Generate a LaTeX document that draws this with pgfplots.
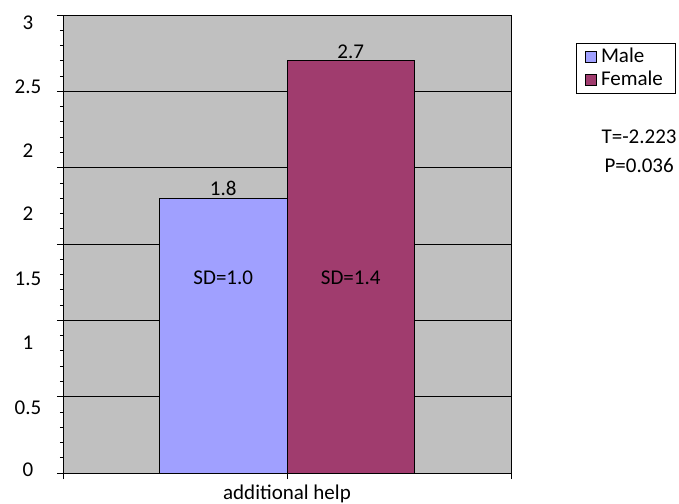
\documentclass[border=0pt]{standalone}
\usepackage{fontspec}
\setmainfont{Carlito}
\usepackage{pgfplots}
\pgfplotsset{compat=1.18}

\definecolor{male}{HTML}{A0A0FF}
\definecolor{female}{HTML}{A03C6E}
\definecolor{plotbg}{HTML}{C0C0C0}

\newcommand{\lbl}{\fontsize{21}{24}\selectfont}

\begin{document}
\begin{tikzpicture}
\begin{axis}[
  at={(63pt,30pt)}, anchor=south west,
  scale only axis, width=448pt, height=458pt,
  xmin=-1.757, xmax=1.757, ymin=0, ymax=3,
  axis background/.style={fill=plotbg},
  axis line style={black, line width=0.9pt},
  font=\lbl,
  /pgf/number format/assume math mode=true,
  xtick={-1.757,0,1.757}, xticklabels={,additional help,},
  xtick pos=bottom, xtick align=outside, major tick length=6pt,
  xticklabel style={yshift=-2pt},
  ytick={0,0.5,...,3}, yticklabels={},
  minor ytick={0.1,0.2,...,3}, ytick pos=left, ytick align=outside,
  minor tick length=3pt,
  tick style={black, line width=0.8pt},
  ymajorgrids, grid style={black, line width=0.8pt},
  extra y ticks={0.02,0.43,0.85,1.27,1.70,2.11,2.53,2.95},
  extra y tick labels={0,0.5,1,1.5,2,2,2.5,3},
  extra y tick style={major tick length=0pt, grid=none,
    yticklabel style={anchor=center, xshift=-35pt}},
  legend style={at={(axis description cs:1.145,0.939)}, anchor=north west,
    draw=black, line width=0.9pt, font=\lbl,
    inner xsep=0pt, inner ysep=3pt, row sep=2pt,
    nodes={inner xsep=1pt, inner ysep=1pt, text height=15pt, text depth=4pt},
    legend cell align=left},
  legend image code/.code={%
    \path (-9pt,0pt) (14pt,0pt);
    \draw[#1, line width=0.6pt] (0pt,-5.5pt) rectangle (11pt,5.5pt);},
  clip=false,
]
\addplot[draw=black, line width=0.6pt, fill=male, ybar, bar width=1, bar shift=0]
  coordinates {(-0.5,1.8)};
\addlegendentry{Male}
\addplot[draw=black, line width=0.6pt, fill=female, ybar, bar width=1, bar shift=0]
  coordinates {(0.5,2.7)};
\addlegendentry{Female\hspace*{12pt}}

\node[font=\lbl, anchor=south, inner sep=2pt] at (axis cs:-0.5,1.8) {1.8};
\node[font=\lbl, anchor=south, inner sep=2pt] at (axis cs:0.5,2.7) {2.7};
\node[font=\lbl] at (axis cs:-0.5,1.28) {SD=1.0};
\node[font=\lbl] at (axis cs:0.5,1.28) {SD=1.4};
\node[font=\lbl] at (axis description cs:1.286,0.7336) {T=-2.223};
\node[font=\lbl] at (axis description cs:1.286,0.6725) {P=0.036};
\end{axis}
\pgfresetboundingbox
\path (0,0) rectangle (679pt,503pt);
\end{tikzpicture}
\end{document}
